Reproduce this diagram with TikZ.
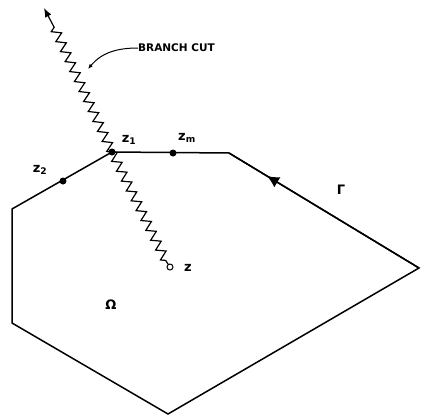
\documentclass[tikz,border=0pt]{standalone}
\usepackage{fontspec}
\setmainfont{DejaVu Sans}
\usetikzlibrary{arrows.meta,decorations.pathmorphing,decorations.markings}
\begin{document}
\begin{tikzpicture}[x=1pt,y=-1pt,
  edge/.style={line width=1.5pt,line join=miter},
  cut/.style={line width=1.2pt,decorate,decoration={zigzag,segment length=11pt,amplitude=4.5pt}},
  pt/.style={circle,fill=black,inner sep=0pt,minimum size=7pt},
  lbl/.style={font=\bfseries\fontsize{10.5}{12}\selectfont,inner sep=0pt},
  zlbl/.style={font=\bfseries\fontsize{13}{14}\selectfont,inner sep=0pt}]
\useasboundingbox (0,0) rectangle (421,418);
% polygon vertices
\coordinate (A) at (112,152);
\coordinate (B) at (229,153);
\coordinate (C) at (419,268);
\coordinate (D) at (168,414);
\coordinate (E) at (12,323);
\coordinate (F) at (12,209);
\coordinate (tip) at (44,8);
\coordinate (cutend) at (54,27);
\coordinate (zend) at (166,261);
\draw[edge] (A) -- (B) -- (C) -- (D) -- (E) -- (F) -- cycle;
\draw[edge,postaction={decorate},decoration={markings,mark=at position 0.8 with {\arrow{Latex[length=12pt,width=12pt]}}}] (C) -- (B);
% points
\node[pt] (z1) at (A) {};
\node[pt] (zm) at (173,153) {};
\node[pt] (z2) at (63,181) {};
\node[circle,draw,line width=1pt,inner sep=0pt,minimum size=6pt] (z) at (170,267) {};
% branch cut
\draw[cut] (z1.center) -- (cutend);
\draw[line width=1.2pt,-{Latex[length=9pt,width=7pt]}] (cutend) -- (tip);
\draw[cut] (z1.center) -- (zend);
\draw[line width=1.2pt] (zend) -- (z);
% labels
\node[lbl,anchor=west] (bc) at (138,48) {BRANCH CUT};
\coordinate (bcpt) at (88,69);
\draw[line width=1pt,-{Latex[length=5pt,width=4pt]}] (bc.west) to[out=180,in=50] (bcpt);
\node[zlbl] (lz1) at (129,140) {z\textsubscript{1}};
\node[zlbl] (lzm) at (187,138) {z\textsubscript{m}};
\node[zlbl] (lz2) at (40,170) {z\textsubscript{2}};
\node[zlbl] (lz) at (188,268) {z};
\node[zlbl] (lG) at (341,190) {Γ};
\node[zlbl] (lO) at (111,305) {Ω};
\end{tikzpicture}
\end{document}
